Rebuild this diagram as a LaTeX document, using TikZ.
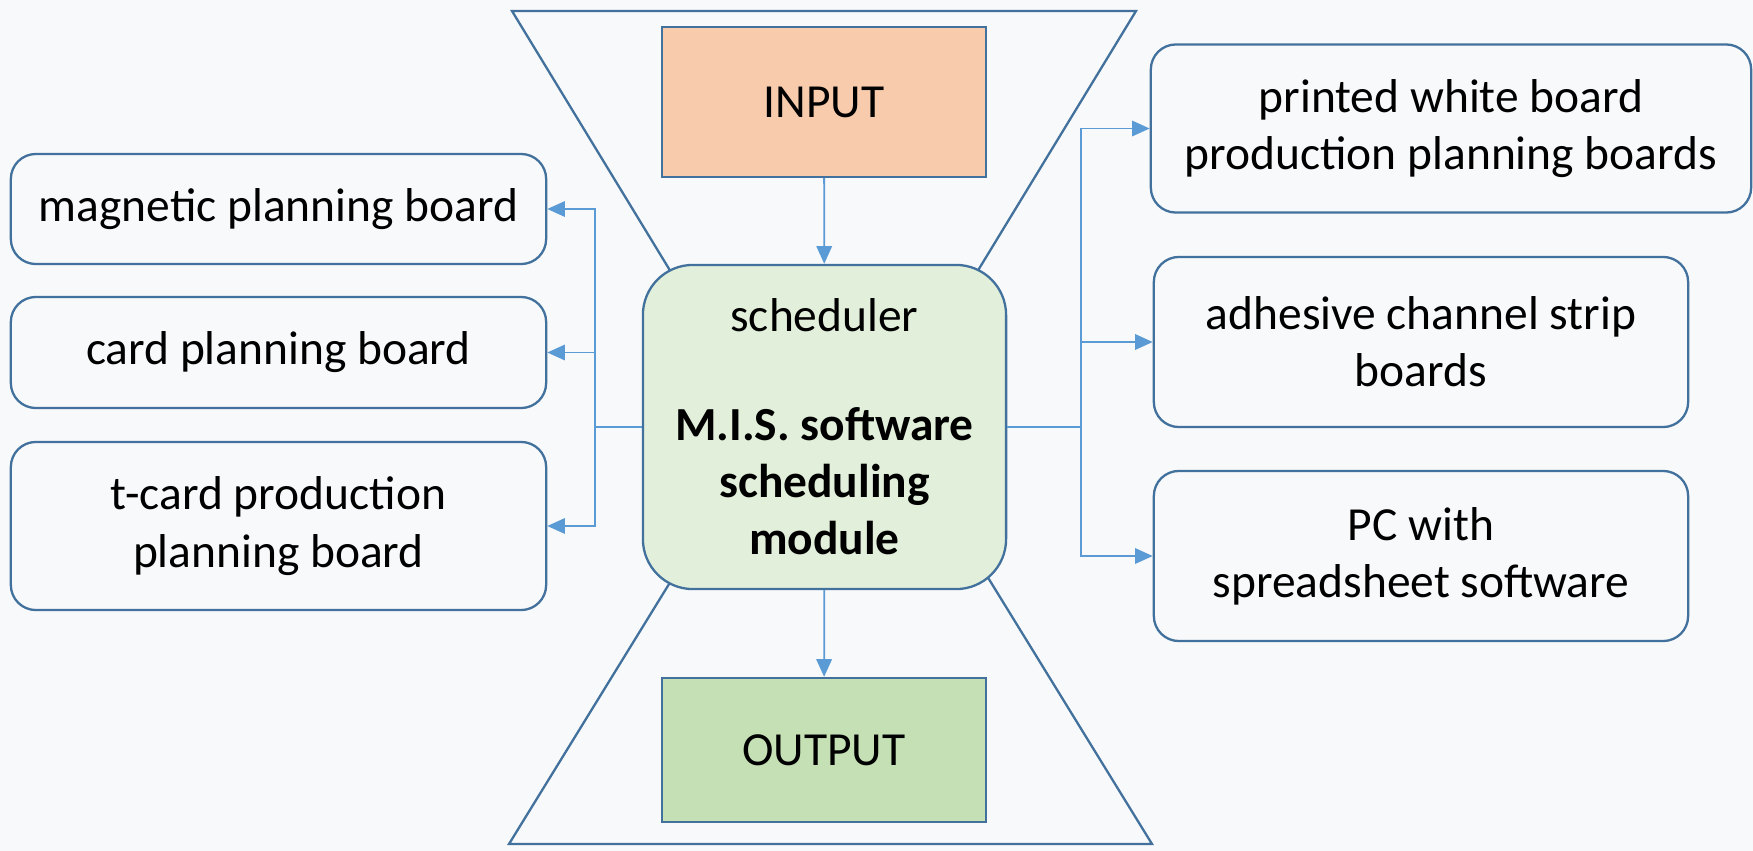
\documentclass[tikz,border=0pt]{standalone}
\usepackage{fontspec}
\setmainfont{Carlito}
\usetikzlibrary{arrows.meta}

\definecolor{bgGrey}{RGB}{248,249,250}
\definecolor{edgeBlue}{RGB}{65,113,156}
\definecolor{linkBlue}{RGB}{91,155,213}
\definecolor{inFill}{RGB}{248,203,173}
\definecolor{outFill}{RGB}{197,224,180}
\definecolor{schedFill}{RGB}{226,239,218}

\tikzset{
  board/.style={draw=edgeBlue, line width=0.65pt, fill=bgGrey, rounded corners=0.25cm, align=center},
  block/.style={draw=edgeBlue, line width=0.65pt, align=center, minimum width=3.24cm},
  link/.style={draw=linkBlue, line width=0.5pt, -{Triangle[length=5pt,width=4.4pt]}}
}

\begin{document}
\begin{tikzpicture}[x=0.01cm, y=-0.01cm, font=\fontsize{13.5}{16.3}\selectfont]
\fill[bgGrey] (0,0) rectangle (1753,851);
\useasboundingbox (0,0) rectangle (1753,851);

%Funnel
\draw[edgeBlue, line width=0.65pt] (512,11) -- (1136,11) -- (960,300) -- (688,300) -- cycle;
\draw[edgeBlue, line width=0.65pt] (509,844) -- (1152,844) -- (971,550) -- (690,550) -- cycle;

% Input, output and scheduler
\node[block, fill=inFill, minimum height=1.50cm] (input) at (824,102) {INPUT};
\node[block, fill=outFill, minimum height=1.44cm] (output) at (824,750) {OUTPUT};
\node[draw=edgeBlue, line width=0.65pt, fill=schedFill, rounded corners=0.5cm, align=center,
      minimum width=3.63cm, minimum height=3.24cm] (sched) at (824.5,427)
  {scheduler\\[14.5pt]\textbf{M.I.S. software}\\\textbf{scheduling}\\\textbf{module}};

%Boards
\node[board, minimum width=5.35cm, minimum height=1.10cm] (magnetic) at (278.5,209) {magnetic planning board};
\node[board, minimum width=5.35cm, minimum height=1.11cm] (card) at (278.5,352.5) {card planning board};
\node[board, minimum width=5.35cm, minimum height=1.68cm] (tcard) at (278.5,526) {t-card production\\planning board};
\node[board, minimum width=6.00cm, minimum height=1.68cm] (printed) at (1451,128.5) {printed white board\\production planning boards};
\node[board, minimum width=5.34cm, minimum height=1.70cm] (adhesive) at (1421,342) {adhesive channel strip\\boards};
\node[board, minimum width=5.34cm, minimum height=1.70cm] (pc) at (1421,556) {PC with\\spreadsheet software};

%Links
\draw[link] (input) -- (sched);
\draw[link] (sched) -- (output);
\foreach \b in {magnetic, card, tcard}
  \draw[link] (sched.west) -- ++(-47,0) |- (\b.east);
\foreach \b in {printed, adhesive, pc}
  \draw[link] (sched.east) -- ++(74,0) |- (\b.west);
\end{tikzpicture}
\end{document}
